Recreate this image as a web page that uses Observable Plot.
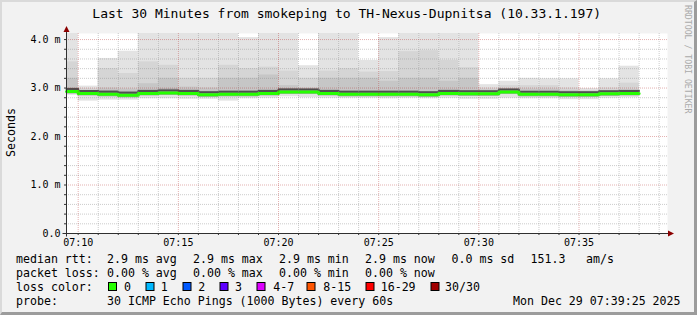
<!DOCTYPE html>
<html><head><meta charset="utf-8">
<script src="https://cdn.jsdelivr.net/npm/d3@7"></script>
<script src="https://cdn.jsdelivr.net/npm/@observablehq/plot@0.6"></script>
<style>
html,body{margin:0;padding:0;background:#f2f2f2;}
#wrap{position:relative;width:697px;height:315px;background:#f2f2f2;overflow:hidden;}
#frame{position:absolute;left:0;top:0;width:697px;height:315px;box-sizing:border-box;border-top:2px solid #dadada;border-left:2px solid #dadada;border-right:3px solid #9c9c9c;border-bottom:3px solid #9c9c9c;pointer-events:none;}
#wrap svg{position:absolute;left:0;top:0;}
</style></head><body><div id="wrap"><div id="frame"></div></div>
<script>
// ---- texts ----
const title = "Last 30 Minutes from smokeping to TH-Nexus-Dupnitsa (10.33.1.197)";
const yAxisTitle = "Seconds";
const watermark = "RRDTOOL / TOBI OETIKER";
const rangeStart = "07:09:25";
const rangeEnd = "07:39:25";
const xTickLabels = ["07:10", "07:15", "07:20", "07:25", "07:30", "07:35"];
const yTickValues = [0, 1, 2, 3, 4];
const yTickLabels = ["0.0", "1.0 m", "2.0 m", "3.0 m", "4.0 m"];

// ---- data (ms), one value per 60 s bin, bin ends at the listed time ----
const binEnd = ["07:10","07:11","07:12","07:13","07:14","07:15","07:16","07:17","07:18","07:19",
                "07:20","07:21","07:22","07:23","07:24","07:25","07:26","07:27","07:28","07:29",
                "07:30","07:31","07:32","07:33","07:34","07:35","07:36","07:37","07:38"];
const smokeMax   = [4.30,3.04,3.61,3.76,4.30,4.30,4.30,4.30,4.30,4.04,4.30,4.30,3.46,4.30,4.30,3.57,4.04,4.30,4.30,4.30,4.30,3.07,3.14,3.20,3.19,3.19,2.99,3.19,3.45];
const smokeUpper = [3.54,2.99,3.40,3.30,3.54,3.47,3.20,3.20,3.47,3.40,3.43,3.35,3.20,3.35,3.40,3.33,3.34,3.75,3.77,3.57,3.42,3.00,3.05,3.05,3.05,3.00,2.95,3.00,3.10];
const smokeInner = [3.20,2.95,3.00,2.98,3.09,3.20,3.02,3.00,3.20,3.20,3.27,3.05,3.00,3.20,3.20,3.20,3.14,3.20,3.20,3.14,3.20,2.96,2.97,2.98,2.98,2.95,2.93,2.95,2.97];
const coreHi     = [3.00,2.95,2.95,2.93,2.96,2.98,2.96,2.93,2.94,2.94,2.96,2.99,2.98,2.96,2.94,2.94,2.94,2.94,2.93,2.96,2.95,2.94,2.98,2.93,2.93,2.92,2.92,2.94,2.95];
const rttMedian  = [2.93,2.89,2.87,2.85,2.89,2.90,2.89,2.86,2.87,2.87,2.89,2.92,2.92,2.89,2.87,2.87,2.87,2.87,2.86,2.89,2.88,2.88,2.92,2.87,2.87,2.86,2.86,2.88,2.89];
const coreLo     = [2.88,2.84,2.82,2.80,2.84,2.85,2.84,2.81,2.82,2.82,2.84,2.87,2.87,2.84,2.82,2.82,2.82,2.82,2.81,2.84,2.83,2.83,2.87,2.82,2.82,2.81,2.81,2.83,2.84];
const smokeMin   = [2.85,2.73,2.75,2.75,2.78,2.78,2.77,2.77,2.73,2.78,2.79,2.82,2.80,2.79,2.79,2.79,2.78,2.79,2.78,2.79,2.77,2.77,2.79,2.78,2.78,2.76,2.76,2.79,2.80];

// ---- legend ----
const rttStats  = ["2.9 ms avg", "2.9 ms max", "2.9 ms min", "2.9 ms now", "0.0 ms sd", "151.3", "am/s"];
const lossStats = ["0.00 % avg", "0.00 % max", "0.00 % min", "0.00 % now"];
const lossLabels = ["0", "1", "2", "3", "4-7", "8-15", "16-29", "30/30"];
const lossColors = ["#26ff00", "#00b8ff", "#0059ff", "#5e00ff", "#dd00ff", "#ff5500", "#ff0000", "#a00000"];
const probeText = "30 ICMP Echo Pings (1000 Bytes) every 60s";
const stampText = "Mon Dec 29 07:39:25 2025";

// ---- layout (pixels) ----
const rowBase = [262.5, 276.5, 290.5, 304.5];
const rttX = [107, 193, 279, 365, 451.5, 530.5, 586];
const lossX = [107, 193, 279, 365];
const swatchX = [108.5, 146, 183, 220, 257, 307, 366, 431];
const swatchLabelX = [124, 160.7, 198.3, 235, 273.3, 323.3, 380.7, 445];

const T = s => new Date(`2025-12-29T${s.length === 5 ? s + ":00" : s}Z`);
const t0 = T(rangeStart), t1 = T(rangeEnd);
const bins = binEnd.map((e, i) => ({
  start: i === 0 ? t0 : T(binEnd[i - 1]), end: T(e),
  max: smokeMax[i], upper: smokeUpper[i], inner: smokeInner[i],
  hi: coreHi[i], med: rttMedian[i], lo: coreLo[i], min: smokeMin[i]
}));
const medPts = bins.map(b => ({t: b.start, v: b.med}));
medPts.push({t: bins[bins.length - 1].end, v: bins[bins.length - 1].med});

const minuteTicks = d3.utcMinute.range(d3.utcMinute.ceil(t0), t1);
const majorX = xTickLabels.map(T);
const minorX = minuteTicks.filter(d => !xTickLabels.includes(d3.utcFormat("%H:%M")(d)));
const yAll = d3.range(1, 21).map(i => i / 5);
const minorY = yAll.filter(v => !yTickValues.includes(v));
const majorY = yTickValues.filter(v => v > 0);

const gridStyle = {stroke: "#8c8c8c", strokeOpacity: 0.45, strokeDasharray: "1,1"};
const mgridStyle = {stroke: "#b02020", strokeOpacity: 0.35, strokeDasharray: "1,1"};

const chart = Plot.plot({
  width: 697, height: 315,
  marginLeft: 66, marginRight: 30, marginTop: 33, marginBottom: 82,
  x: {type: "utc", domain: [t0, t1]},
  y: {domain: [0, 4.125]},
  style: {background: "transparent", fontFamily: "'DejaVu Sans Mono', monospace", fontSize: "10px", color: "#000"},
  marks: [
    Plot.frame({fill: "white", stroke: null}),
    Plot.rect(bins, {x1: "start", x2: "end", y1: "min", y2: "max", fill: "#e3e3e3", clip: true}),
    Plot.rect(bins, {x1: "start", x2: "end", y1: "lo", y2: "upper", fill: "#d5d5d5", clip: true}),
    Plot.rect(bins, {x1: "start", x2: "end", y1: "lo", y2: "inner", fill: "#c6c6c6", clip: true}),
    Plot.rect(bins, {x1: "start", x2: "end", y1: "lo", y2: "hi", fill: "#a4a4a4", clip: true}),
    Plot.line(medPts, {x: "t", y: "v", curve: "step-after", stroke: "#505050", strokeWidth: 2, dy: -2.5}),
    Plot.line(medPts, {x: "t", y: "v", curve: "step-after", stroke: "#26ff00", strokeWidth: 3}),
    Plot.ruleX(minorX, gridStyle),
    Plot.ruleY(minorY, gridStyle),
    Plot.ruleX(majorX, mgridStyle),
    Plot.ruleY(majorY, mgridStyle),
    Plot.axisY(yAll, {tickSize: 2, tickFormat: () => "", stroke: "#333"}),
    Plot.axisY(yTickValues, {tickSize: 0, tickPadding: 6, tickFormat: (d, i) => yTickLabels[i], label: null}),
    Plot.axisX(minuteTicks, {tickSize: 2, tickFormat: () => "", stroke: "#333", label: null}),
    Plot.axisX(majorX, {tickSize: 0, tickPadding: 5, tickFormat: d3.utcFormat("%H:%M"), label: null})
  ]
});

document.getElementById("wrap").insertBefore(chart, document.getElementById("frame"));

const sx = chart.scale("x"), sy = chart.scale("y");
const ax = Math.round(sx.apply(t0)) + 0.5, ay = Math.round(sy.apply(0)) + 0.5;
const xr = sx.apply(t1), yt = sy.apply(sy.domain[1]);
const svg = d3.select(chart);
const deco = svg.append("g");
deco.append("line").attr("x1", ax - 4).attr("x2", xr + 2).attr("y1", ay).attr("y2", ay).attr("stroke", "#303030");
deco.append("line").attr("x1", ax).attr("x2", ax).attr("y1", ay + 3).attr("y2", yt - 2).attr("stroke", "#303030");
deco.append("path").attr("d", `M${xr + 7},${ay} L${xr + 1},${ay - 3} L${xr + 1},${ay + 3} Z`).attr("fill", "#8b0000");
deco.append("path").attr("d", `M${ax},${yt - 7} L${ax - 3},${yt - 1} L${ax + 3},${yt - 1} Z`).attr("fill", "#8b0000");

const g = svg.append("g").attr("font-family", "'DejaVu Sans Mono', monospace").attr("fill", "#000").attr("text-anchor", "start");
g.append("text").attr("x", 346.7).attr("y", 18).attr("text-anchor", "middle").attr("font-size", 13).text(title);
g.append("text").attr("transform", "translate(15,132.5) rotate(-90)").attr("text-anchor", "middle").attr("font-size", 11.6).text(yAxisTitle);
g.append("text").attr("transform", "translate(684.5,5) rotate(90)").attr("text-anchor", "start").attr("font-size", 8.2).attr("fill", "#aaaaaa").text(watermark);

const fs = 11.6;
const row = (y, x, s) => g.append("text").attr("x", x).attr("y", y).attr("text-anchor", "start").attr("font-size", fs).text(s);
row(rowBase[0], 16, "median rtt:");
rttStats.forEach((s, i) => row(rowBase[0], rttX[i], s));
row(rowBase[1], 16, "packet loss:");
lossStats.forEach((s, i) => row(rowBase[1], lossX[i], s));
row(rowBase[2], 16, "loss color:");
lossLabels.forEach((s, i) => {
  g.append("rect").attr("x", swatchX[i]).attr("y", rowBase[2] - 8).attr("width", 8).attr("height", 8)
    .attr("fill", lossColors[i]).attr("stroke", "#000").attr("stroke-width", 1);
  row(rowBase[2], swatchLabelX[i], s);
});
row(rowBase[3], 16, "probe:");
row(rowBase[3], 107, probeText);
row(rowBase[3], 513, stampText);
</script></body></html>
